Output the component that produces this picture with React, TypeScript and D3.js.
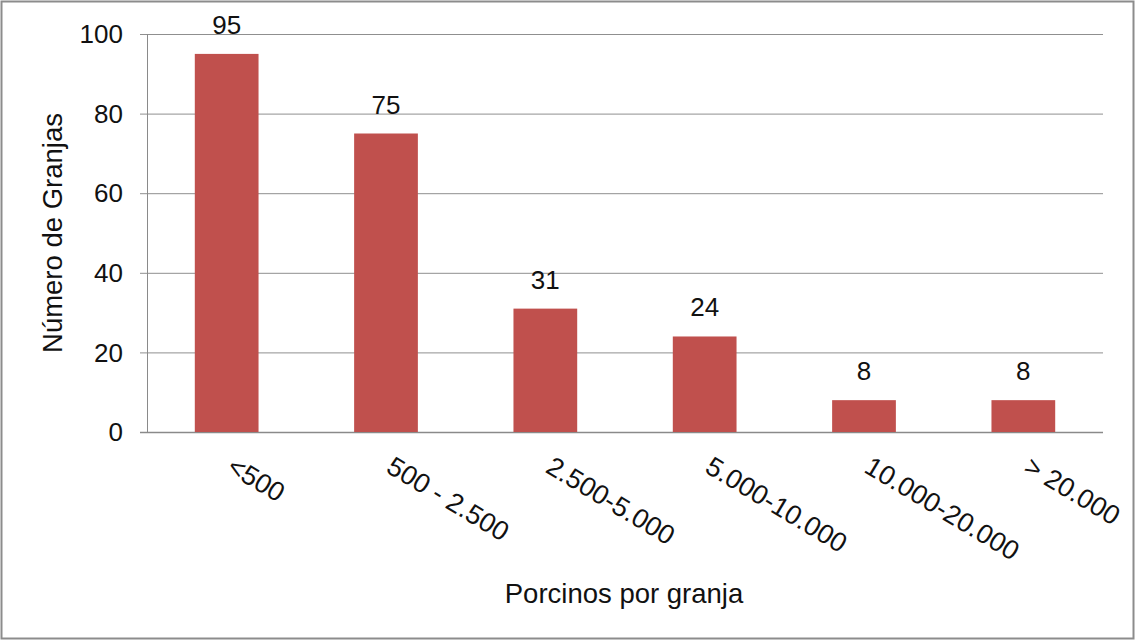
import React, { useEffect, useRef } from "react";
import * as d3 from "d3";

const categories = ["<500", "500 - 2.500", "2.500-5.000", "5.000-10.000", "10.000-20.000", "> 20.000"];
const values = [95, 75, 31, 24, 8, 8];
const yTicks = [0, 20, 40, 60, 80, 100];
const xTitle = "Porcinos por granja";
const yTitle = "Número de Granjas";

const W = 1135;
const H = 641;
const FONT = "'Liberation Sans', Arial, sans-serif";

export default function App() {
  const ref = useRef<SVGSVGElement>(null);

  useEffect(() => {
    const svg = d3.select(ref.current);
    svg.selectAll("*").remove();

    const left = 147, right = 1103, top = 34, bottom = 432;

    const x = d3.scaleBand<string>().domain(categories).range([left, right]).paddingInner(0.6).paddingOuter(0.3);
    const y = d3.scaleLinear().domain([0, 100]).range([bottom, top]);

    svg.append("rect").attr("x", 1.5).attr("y", 1.5).attr("width", W - 3).attr("height", H - 4)
      .attr("fill", "#fff").attr("stroke", "#8c8c8c").attr("stroke-width", 2);

    // gridlines
    svg.append("g").selectAll("line").data(yTicks).join("line")
      .attr("x1", left - 7).attr("x2", right)
      .attr("y1", (d) => y(d) + 0.5).attr("y2", (d) => y(d) + 0.5)
      .attr("stroke", (d) => (d === 0 ? "#8a8a8a" : "#8f8f8f"))
      .attr("stroke-width", (d) => (d === 0 ? 1.5 : 1));

    // y axis line
    svg.append("line").attr("x1", left + 0.5).attr("x2", left + 0.5).attr("y1", top).attr("y2", bottom)
      .attr("stroke", "#8a8a8a").attr("stroke-width", 1);

    // y tick labels
    svg.append("g").selectAll("text").data(yTicks).join("text")
      .attr("x", 123).attr("y", (d) => y(d)).attr("dy", "0.35em")
      .attr("text-anchor", "end").attr("font-family", FONT).attr("font-size", 26).attr("fill", "#111")
      .text((d) => String(d));

    // bars
    svg.append("g").selectAll("rect").data(values).join("rect")
      .attr("x", (_, i) => x(categories[i])!)
      .attr("width", x.bandwidth())
      .attr("y", (d) => y(d))
      .attr("height", (d) => y(0) - y(d))
      .attr("fill", "#C0504D");

    // value labels
    svg.append("g").selectAll("text").data(values).join("text")
      .attr("x", (_, i) => x(categories[i])! + x.bandwidth() / 2)
      .attr("y", (d) => y(d) - 20)
      .attr("text-anchor", "middle").attr("font-family", FONT).attr("font-size", 26).attr("fill", "#111")
      .text((d) => String(d));

    // x tick labels
    svg.append("g").selectAll("text").data(categories).join("text")
      .attr("transform", (d) => `translate(${x(d)! + x.bandwidth() / 2 + 10},${453}) rotate(31)`)
      .attr("dy", "0.8em")
      .attr("text-anchor", "start").attr("font-family", FONT).attr("font-size", 27).attr("fill", "#111")
      .text((d) => d);

    // axis titles
    svg.append("text").attr("x", 624).attr("y", 603)
      .attr("text-anchor", "middle").attr("font-family", FONT).attr("font-size", 27.5).attr("fill", "#111")
      .text(xTitle);

    svg.append("text").attr("transform", `translate(62,233) rotate(-90)`)
      .attr("text-anchor", "middle").attr("font-family", FONT).attr("font-size", 27.5).attr("fill", "#111")
      .text(yTitle);
  }, []);

  return (
    <svg ref={ref} width={W} height={H} style={{ position: "absolute", left: 0, top: 0, background: "#fff" }} />
  );
}
